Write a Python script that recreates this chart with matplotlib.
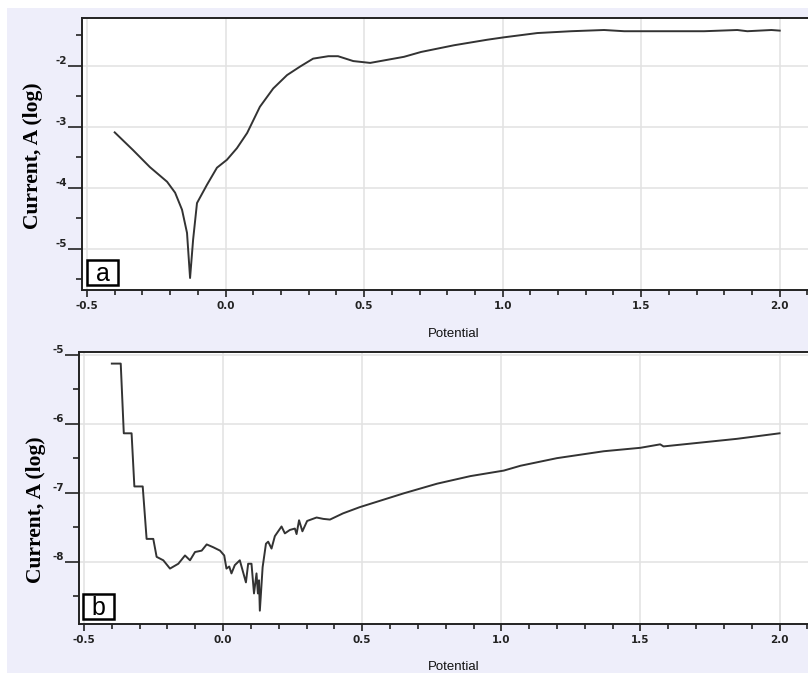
import matplotlib.pyplot as plt
from matplotlib.patches import Rectangle
from matplotlib.ticker import MultipleLocator
import numpy as np

# curve (a): potential vs log current
pot_a = [-0.40, -0.334, -0.273, -0.211, -0.182, -0.157, -0.139, -0.128, -0.117, -0.103,
         -0.067, -0.031, 0.005, 0.041, 0.078, 0.124, 0.172, 0.222, 0.269, 0.316,
         0.371, 0.406, 0.461, 0.522, 0.583, 0.644, 0.706, 0.825, 0.944, 1.005,
         1.125, 1.247, 1.366, 1.439, 1.727, 1.847, 1.883, 1.97, 2.0]
cur_a = [-3.09, -3.38, -3.66, -3.90, -4.08, -4.36, -4.74, -5.48, -4.85, -4.25,
         -3.95, -3.67, -3.54, -3.35, -3.10, -2.67, -2.37, -2.15, -2.01, -1.88,
         -1.84, -1.84, -1.92, -1.95, -1.90, -1.85, -1.77, -1.66, -1.57, -1.53,
         -1.46, -1.43, -1.41, -1.43, -1.43, -1.41, -1.43, -1.41, -1.42]

# curve (b)
pot_b = [-0.40, -0.368, -0.357, -0.329, -0.319, -0.289, -0.275, -0.251, -0.239, -0.215,
         -0.191, -0.161, -0.137, -0.119, -0.101, -0.077, -0.059, -0.036, -0.011, 0.004,
         0.012, 0.022, 0.030, 0.042, 0.060, 0.082, 0.090, 0.102, 0.111, 0.120,
         0.125, 0.129, 0.132, 0.142, 0.154, 0.162, 0.174, 0.186, 0.210, 0.222,
         0.240, 0.258, 0.264, 0.273, 0.285, 0.302, 0.336, 0.360, 0.384, 0.431,
         0.491, 0.649, 0.769, 0.889, 1.009, 1.069, 1.20, 1.284, 1.368, 1.50,
         1.571, 1.583, 1.727, 1.847, 2.0]
cur_b = [-5.13, -5.13, -6.14, -6.14, -6.91, -6.91, -7.67, -7.67, -7.93, -7.98,
         -8.10, -8.03, -7.91, -7.98, -7.86, -7.84, -7.75, -7.79, -7.84, -7.91,
         -8.10, -8.07, -8.17, -8.05, -7.98, -8.30, -8.03, -8.03, -8.46, -8.17,
         -8.46, -8.27, -8.71, -8.08, -7.74, -7.71, -7.81, -7.63, -7.49, -7.59,
         -7.54, -7.52, -7.60, -7.40, -7.56, -7.41, -7.36, -7.38, -7.39, -7.30,
         -7.21, -7.01, -6.87, -6.76, -6.68, -6.61, -6.50, -6.45, -6.40, -6.35,
         -6.30, -6.33, -6.27, -6.22, -6.14]

W, H = 808, 673
lavender = '#EEEEFA'
fig = plt.figure(figsize=(W / 100, H / 100), dpi=100, facecolor='white')
fig.patches.append(Rectangle((7 / W, 0), 1, 1 - 8 / H, transform=fig.transFigure,
                             facecolor=lavender, edgecolor='none', zorder=-10))


def px_axes(left, top, right, bottom):
    return fig.add_axes([left / W, 1 - bottom / H, (right - left) / W, (bottom - top) / H])


def style(ax, ylim, ymaj, letter, box_x):
    ax.set_xlim(-0.518, 2.167)
    ax.set_ylim(*ylim)
    ax.xaxis.set_major_locator(MultipleLocator(0.5))
    ax.xaxis.set_minor_locator(MultipleLocator(0.1))
    ax.yaxis.set_major_locator(MultipleLocator(1))
    ax.yaxis.set_minor_locator(MultipleLocator(0.5))
    ax.set_yticks(ymaj)
    ax.xaxis.set_major_formatter(plt.FuncFormatter(lambda v, p: f'{v:.1f}'))
    ax.yaxis.set_major_formatter(plt.FuncFormatter(lambda v, p: f'{v:.0f}'))
    ax.grid(True, which='major', color='#E2E2E2', lw=1.1)
    ax.set_axisbelow(True)
    for s in ['top', 'left', 'bottom']:
        ax.spines[s].set_color('#222222')
        ax.spines[s].set_linewidth(1.4)
    ax.spines['right'].set_visible(False)
    ax.tick_params(axis='y', which='major', length=10, width=1.2, pad=0.5,
                   labelsize=7.5, colors='#222222')
    ax.tick_params(axis='y', which='minor', length=4.5, width=1.2, colors='#222222')
    ax.tick_params(axis='x', which='major', length=5, width=1.2, pad=3,
                   labelsize=7.5, colors='#222222')
    ax.tick_params(axis='x', which='minor', length=3.5, width=1.2, colors='#222222')
    for t in ax.get_yticklabels():
        t.set_verticalalignment('bottom')
        t.set_fontweight('bold')
    for t in ax.get_xticklabels():
        t.set_fontweight('bold')
    ax.add_patch(Rectangle((box_x, 0.0184), 0.0417, 0.0919, transform=ax.transAxes,
                           facecolor='white', edgecolor='black', lw=1.8, zorder=5))
    ax.text(box_x + 0.0208, 0.0184 + 0.040, letter, transform=ax.transAxes,
            ha='center', va='center', fontsize=18, family='Liberation Sans', zorder=6)


ax1 = px_axes(82, 18, 826, 290)
ax1.plot(pot_a, cur_a, color='#333333', lw=1.4)
style(ax1, (-5.677, -1.213), [-5, -4, -3, -2], 'a', 0.0067)

ax2 = px_axes(79, 352, 826, 624)
ax2.plot(pot_b, cur_b, color='#333333', lw=1.4)
style(ax2, (-8.903, -4.962), [-8, -7, -6, -5], 'b', 0.0054)

for ycen in [334, 667]:
    fig.text(454 / W, 1 - ycen / H, 'Potential', ha='center', va='center',
             fontsize=9.5, family='Liberation Sans', color='#111111')
for ylab, xlab in [(156, 33), (510, 36)]:
    fig.text(xlab / W, 1 - ylab / H, 'Current, A (log)', rotation=90, ha='center',
             va='center', fontsize=15.5, family='Liberation Serif', weight='bold')

fig.savefig('out.png', dpi=100, facecolor=fig.get_facecolor())
